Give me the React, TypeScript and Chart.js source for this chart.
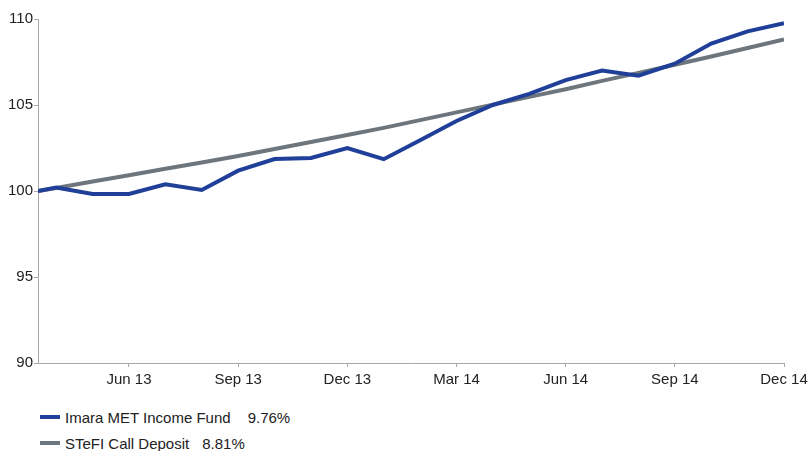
import React, { useEffect, useRef } from "react";
import { Chart, registerables } from "chart.js";

Chart.register(...registerables);

// Month index: 4 = Apr 13 (month end), 24 = Dec 14; 3.5 = mid-April start
const months = [3.5, 4, 5, 6, 7, 8, 9, 10, 11, 12, 13, 14, 15, 16, 17, 18, 19, 20, 21, 22, 23, 24];
const imaraValues = [100.0, 100.2, 99.83, 99.83, 100.39, 100.06, 101.18, 101.86, 101.92, 102.5, 101.85, 102.95, 104.07, 105.0, 105.65, 106.45, 107.0, 106.7, 107.4, 108.57, 109.28, 109.76];
const stefiValues = [100.0, 100.18, 100.55, 100.92, 101.29, 101.66, 102.03, 102.44, 102.85, 103.26, 103.67, 104.12, 104.57, 105.02, 105.47, 105.92, 106.4, 106.87, 107.34, 107.82, 108.31, 108.81];
const tickMonths = [6, 9, 12, 15, 18, 21, 24];
const tickLabels = ["Jun 13", "Sep 13", "Dec 13", "Mar 14", "Jun 14", "Sep 14", "Dec 14"];
const seriesNames = ["Imara MET Income Fund", "STeFI Call Deposit"];
const seriesReturns = ["9.76%", "8.81%"];
const seriesColors = ["#1f3f98", "#6e767d"];

const FONT = "'Liberation Sans', Arial, sans-serif";
const AXIS = "#a8a8a8";

export default function App() {
  const ref = useRef<HTMLCanvasElement>(null);

  useEffect(() => {
    document.body.style.margin = "0";
    const ctx = ref.current!.getContext("2d")!;
    const chart = new Chart(ctx, {
      type: "line",
      data: {
        datasets: [
          {
            label: seriesNames[0],
            data: months.map((m, i) => ({ x: m, y: imaraValues[i] })),
            borderColor: seriesColors[0],
            borderWidth: 4,
            pointRadius: 0,
            tension: 0,
            fill: false,
          },
          {
            label: seriesNames[1],
            data: months.map((m, i) => ({ x: m, y: stefiValues[i] })),
            borderColor: seriesColors[1],
            borderWidth: 4,
            pointRadius: 0,
            tension: 0,
            fill: false,
          },
        ],
      },
      options: {
        animation: false,
        responsive: false,
        maintainAspectRatio: false,
        layout: { padding: { top: 19, right: 25, left: 0, bottom: 0 } },
        plugins: { legend: { display: false }, tooltip: { enabled: false } },
        scales: {
          x: {
            type: "linear",
            min: 3.5,
            max: 24,
            afterBuildTicks: (scale: any) => {
              scale.ticks = tickMonths.map((v) => ({ value: v }));
            },
            afterFit: (scale: any) => {
              scale.height = 37;
              scale.paddingLeft = 0;
              scale.paddingRight = 20;
            },
            ticks: {
              autoSkip: false,
              maxRotation: 0,
              padding: 4,
              color: "#222",
              font: { family: FONT, size: 15 },
              callback: (v: any) => {
                const i = tickMonths.indexOf(Number(v));
                return i >= 0 ? tickLabels[i] : "";
              },
            },
            grid: { display: true, drawOnChartArea: false, drawTicks: true, tickLength: 4, color: AXIS },
            border: { display: true, color: AXIS, width: 1 },
          },
          y: {
            min: 90,
            max: 110,
            afterFit: (scale: any) => {
              scale.width = 38;
            },
            ticks: {
              stepSize: 5,
              padding: 1,
              color: "#222",
              font: { family: FONT, size: 15 },
            },
            grid: { display: true, drawOnChartArea: false, drawTicks: true, tickLength: 4, color: AXIS },
            border: { display: true, color: AXIS, width: 1 },
          },
        },
      },
    });
    return () => chart.destroy();
  }, []);

  return (
    <div style={{ position: "relative", width: 809, height: 451, background: "#fff" }}>
      <canvas ref={ref} width={809} height={400} style={{ display: "block", width: 809, height: 400 }} />
      {seriesNames.map((name, i) => (
        <div
          key={name}
          style={{
            position: "absolute",
            left: 40,
            top: 417 + i * 26 - 10,
            height: 20,
            display: "flex",
            alignItems: "center",
            fontFamily: FONT,
            fontSize: 15,
            color: "#222",
            whiteSpace: "pre",
          }}
        >
          <span style={{ display: "inline-block", width: 20, height: 4, background: seriesColors[i], marginRight: 5 }} />
          <span>{name}</span>
          <span style={{ marginLeft: i === 0 ? 17 : 13 }}>{seriesReturns[i]}</span>
        </div>
      ))}
    </div>
  );
}
